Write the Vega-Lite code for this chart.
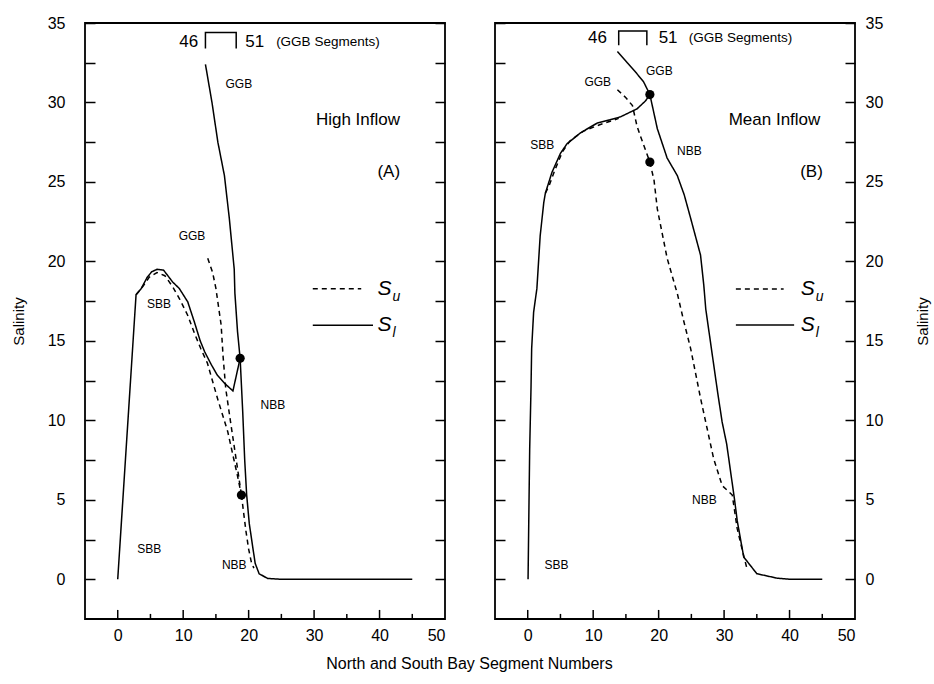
{
  "$schema": "https://vega.github.io/schema/vega-lite/v6.json",
  "background": "white",
  "padding": {"left": 10, "top": 14, "right": 5, "bottom": 5},
  "spacing": 50,
  "bounds": "flush",
  "config": {
    "font": "Liberation Sans",
    "view": {"stroke": "black", "strokeWidth": 1.8},
    "axis": {"domain": false, "grid": false, "labelFont": "Liberation Sans", "titleFont": "Liberation Sans", "labelFontSize": 16, "titleFontSize": 15, "titleFontWeight": "normal", "labelColor": "black", "titleColor": "black", "tickColor": "black", "tickWidth": 1.5}
  },
  "datasets": {
    "linesA": [
      {"s": "A_SBB_l", "curve": "S_l", "i": 0, "x": 0, "y": 0},
      {"s": "A_SBB_l", "curve": "S_l", "i": 1, "x": 2.8, "y": 17.9},
      {"s": "A_SBB_l", "curve": "S_l", "i": 2, "x": 3.6, "y": 18.3},
      {"s": "A_SBB_l", "curve": "S_l", "i": 3, "x": 4.5, "y": 19.0},
      {"s": "A_SBB_l", "curve": "S_l", "i": 4, "x": 5.2, "y": 19.35},
      {"s": "A_SBB_l", "curve": "S_l", "i": 5, "x": 6.0, "y": 19.5},
      {"s": "A_SBB_l", "curve": "S_l", "i": 6, "x": 7.0, "y": 19.45},
      {"s": "A_SBB_l", "curve": "S_l", "i": 7, "x": 8.4, "y": 18.7},
      {"s": "A_SBB_l", "curve": "S_l", "i": 8, "x": 9.4, "y": 18.3},
      {"s": "A_SBB_l", "curve": "S_l", "i": 9, "x": 10.7, "y": 17.45},
      {"s": "A_SBB_l", "curve": "S_l", "i": 10, "x": 11.7, "y": 16.2},
      {"s": "A_SBB_l", "curve": "S_l", "i": 11, "x": 12.6, "y": 15.0},
      {"s": "A_SBB_l", "curve": "S_l", "i": 12, "x": 13.3, "y": 14.3},
      {"s": "A_SBB_l", "curve": "S_l", "i": 13, "x": 14.3, "y": 13.5},
      {"s": "A_SBB_l", "curve": "S_l", "i": 14, "x": 15.2, "y": 12.85},
      {"s": "A_SBB_l", "curve": "S_l", "i": 15, "x": 16.4, "y": 12.3},
      {"s": "A_SBB_l", "curve": "S_l", "i": 16, "x": 17.6, "y": 11.85},
      {"s": "A_SBB_l", "curve": "S_l", "i": 17, "x": 18.7, "y": 13.9},
      {"s": "A_GGB_l", "curve": "S_l", "i": 0, "x": 13.4, "y": 32.4},
      {"s": "A_GGB_l", "curve": "S_l", "i": 1, "x": 14.4, "y": 30.0},
      {"s": "A_GGB_l", "curve": "S_l", "i": 2, "x": 15.3, "y": 27.5},
      {"s": "A_GGB_l", "curve": "S_l", "i": 3, "x": 16.3, "y": 25.4},
      {"s": "A_GGB_l", "curve": "S_l", "i": 4, "x": 17.05, "y": 22.7},
      {"s": "A_GGB_l", "curve": "S_l", "i": 5, "x": 17.8, "y": 19.5},
      {"s": "A_GGB_l", "curve": "S_l", "i": 6, "x": 17.9, "y": 18.0},
      {"s": "A_GGB_l", "curve": "S_l", "i": 7, "x": 18.3, "y": 15.6},
      {"s": "A_GGB_l", "curve": "S_l", "i": 8, "x": 18.7, "y": 13.9},
      {"s": "A_NBB_l", "curve": "S_l", "i": 0, "x": 18.7, "y": 13.9},
      {"s": "A_NBB_l", "curve": "S_l", "i": 1, "x": 19.1, "y": 10.5},
      {"s": "A_NBB_l", "curve": "S_l", "i": 2, "x": 19.4, "y": 7.5},
      {"s": "A_NBB_l", "curve": "S_l", "i": 3, "x": 19.7, "y": 5.3},
      {"s": "A_NBB_l", "curve": "S_l", "i": 4, "x": 20.1, "y": 3.5},
      {"s": "A_NBB_l", "curve": "S_l", "i": 5, "x": 20.6, "y": 2.1},
      {"s": "A_NBB_l", "curve": "S_l", "i": 6, "x": 21.0, "y": 1.0},
      {"s": "A_NBB_l", "curve": "S_l", "i": 7, "x": 21.6, "y": 0.35},
      {"s": "A_NBB_l", "curve": "S_l", "i": 8, "x": 22.9, "y": 0.05},
      {"s": "A_NBB_l", "curve": "S_l", "i": 9, "x": 25, "y": 0},
      {"s": "A_NBB_l", "curve": "S_l", "i": 10, "x": 45, "y": 0},
      {"s": "A_SBB_u", "curve": "S_u", "i": 0, "x": 2.8, "y": 17.9},
      {"s": "A_SBB_u", "curve": "S_u", "i": 1, "x": 3.8, "y": 18.4},
      {"s": "A_SBB_u", "curve": "S_u", "i": 2, "x": 4.8, "y": 19.0},
      {"s": "A_SBB_u", "curve": "S_u", "i": 3, "x": 6.0, "y": 19.3},
      {"s": "A_SBB_u", "curve": "S_u", "i": 4, "x": 7.2, "y": 19.1},
      {"s": "A_SBB_u", "curve": "S_u", "i": 5, "x": 8.4, "y": 18.4},
      {"s": "A_SBB_u", "curve": "S_u", "i": 6, "x": 9.5, "y": 17.6},
      {"s": "A_SBB_u", "curve": "S_u", "i": 7, "x": 10.7, "y": 16.6},
      {"s": "A_SBB_u", "curve": "S_u", "i": 8, "x": 11.7, "y": 15.5},
      {"s": "A_SBB_u", "curve": "S_u", "i": 9, "x": 12.7, "y": 14.5},
      {"s": "A_SBB_u", "curve": "S_u", "i": 10, "x": 13.7, "y": 13.6},
      {"s": "A_SBB_u", "curve": "S_u", "i": 11, "x": 15.3, "y": 11.3},
      {"s": "A_SBB_u", "curve": "S_u", "i": 12, "x": 16.8, "y": 9.3},
      {"s": "A_SBB_u", "curve": "S_u", "i": 13, "x": 18.3, "y": 6.5},
      {"s": "A_SBB_u", "curve": "S_u", "i": 14, "x": 18.9, "y": 5.3},
      {"s": "A_GGB_u", "curve": "S_u", "i": 0, "x": 13.75, "y": 20.2},
      {"s": "A_GGB_u", "curve": "S_u", "i": 1, "x": 14.5, "y": 19.3},
      {"s": "A_GGB_u", "curve": "S_u", "i": 2, "x": 15.0, "y": 18.3},
      {"s": "A_GGB_u", "curve": "S_u", "i": 3, "x": 15.8, "y": 16.0},
      {"s": "A_GGB_u", "curve": "S_u", "i": 4, "x": 16.1, "y": 14.0},
      {"s": "A_GGB_u", "curve": "S_u", "i": 5, "x": 16.5, "y": 12.0},
      {"s": "A_GGB_u", "curve": "S_u", "i": 6, "x": 17.2, "y": 10.0},
      {"s": "A_GGB_u", "curve": "S_u", "i": 7, "x": 18.0, "y": 7.8},
      {"s": "A_GGB_u", "curve": "S_u", "i": 8, "x": 18.9, "y": 5.3},
      {"s": "A_NBB_u", "curve": "S_u", "i": 0, "x": 18.9, "y": 5.3},
      {"s": "A_NBB_u", "curve": "S_u", "i": 1, "x": 19.2, "y": 4.3},
      {"s": "A_NBB_u", "curve": "S_u", "i": 2, "x": 19.6, "y": 3.0},
      {"s": "A_NBB_u", "curve": "S_u", "i": 3, "x": 20.0, "y": 1.9},
      {"s": "A_NBB_u", "curve": "S_u", "i": 4, "x": 20.4, "y": 1.1},
      {"s": "A_NBB_u", "curve": "S_u", "i": 5, "x": 20.8, "y": 0.7}
    ],
    "linesB": [
      {"s": "B_SBB_l", "curve": "S_l", "i": 0, "x": 0.05, "y": 0},
      {"s": "B_SBB_l", "curve": "S_l", "i": 1, "x": 0.2, "y": 5},
      {"s": "B_SBB_l", "curve": "S_l", "i": 2, "x": 0.3, "y": 8.2},
      {"s": "B_SBB_l", "curve": "S_l", "i": 3, "x": 0.5, "y": 12},
      {"s": "B_SBB_l", "curve": "S_l", "i": 4, "x": 0.6, "y": 14.5},
      {"s": "B_SBB_l", "curve": "S_l", "i": 5, "x": 0.9, "y": 16.8},
      {"s": "B_SBB_l", "curve": "S_l", "i": 6, "x": 1.4, "y": 18.3},
      {"s": "B_SBB_l", "curve": "S_l", "i": 7, "x": 1.9, "y": 21.6},
      {"s": "B_SBB_l", "curve": "S_l", "i": 8, "x": 2.45, "y": 23.7},
      {"s": "B_SBB_l", "curve": "S_l", "i": 9, "x": 2.7, "y": 24.3},
      {"s": "B_SBB_l", "curve": "S_l", "i": 10, "x": 3.7, "y": 25.6},
      {"s": "B_SBB_l", "curve": "S_l", "i": 11, "x": 5.0, "y": 26.8},
      {"s": "B_SBB_l", "curve": "S_l", "i": 12, "x": 6.0, "y": 27.4},
      {"s": "B_SBB_l", "curve": "S_l", "i": 13, "x": 8.1, "y": 28.1},
      {"s": "B_SBB_l", "curve": "S_l", "i": 14, "x": 10.6, "y": 28.7},
      {"s": "B_SBB_l", "curve": "S_l", "i": 15, "x": 12.5, "y": 28.9},
      {"s": "B_SBB_l", "curve": "S_l", "i": 16, "x": 14.2, "y": 29.1},
      {"s": "B_SBB_l", "curve": "S_l", "i": 17, "x": 16.7, "y": 29.6},
      {"s": "B_SBB_l", "curve": "S_l", "i": 18, "x": 18.0, "y": 30.1},
      {"s": "B_SBB_l", "curve": "S_l", "i": 19, "x": 18.66, "y": 30.5},
      {"s": "B_GGB_l", "curve": "S_l", "i": 0, "x": 13.7, "y": 33.2},
      {"s": "B_GGB_l", "curve": "S_l", "i": 1, "x": 15.2, "y": 32.5},
      {"s": "B_GGB_l", "curve": "S_l", "i": 2, "x": 16.5, "y": 31.9},
      {"s": "B_GGB_l", "curve": "S_l", "i": 3, "x": 17.7, "y": 31.3},
      {"s": "B_GGB_l", "curve": "S_l", "i": 4, "x": 18.66, "y": 30.5},
      {"s": "B_NBB_l", "curve": "S_l", "i": 0, "x": 18.66, "y": 30.5},
      {"s": "B_NBB_l", "curve": "S_l", "i": 1, "x": 19.8, "y": 28.35},
      {"s": "B_NBB_l", "curve": "S_l", "i": 2, "x": 21.3, "y": 26.5},
      {"s": "B_NBB_l", "curve": "S_l", "i": 3, "x": 22.85, "y": 25.4},
      {"s": "B_NBB_l", "curve": "S_l", "i": 4, "x": 23.9, "y": 24.2},
      {"s": "B_NBB_l", "curve": "S_l", "i": 5, "x": 24.9, "y": 22.7},
      {"s": "B_NBB_l", "curve": "S_l", "i": 6, "x": 26.4, "y": 20.4},
      {"s": "B_NBB_l", "curve": "S_l", "i": 7, "x": 26.9, "y": 18.5},
      {"s": "B_NBB_l", "curve": "S_l", "i": 8, "x": 27.2, "y": 17.0},
      {"s": "B_NBB_l", "curve": "S_l", "i": 9, "x": 28.1, "y": 14.4},
      {"s": "B_NBB_l", "curve": "S_l", "i": 10, "x": 29.0, "y": 11.8},
      {"s": "B_NBB_l", "curve": "S_l", "i": 11, "x": 29.7, "y": 9.9},
      {"s": "B_NBB_l", "curve": "S_l", "i": 12, "x": 30.4, "y": 8.5},
      {"s": "B_NBB_l", "curve": "S_l", "i": 13, "x": 31.0, "y": 6.75},
      {"s": "B_NBB_l", "curve": "S_l", "i": 14, "x": 31.6, "y": 5.0},
      {"s": "B_NBB_l", "curve": "S_l", "i": 15, "x": 32.0, "y": 3.7},
      {"s": "B_NBB_l", "curve": "S_l", "i": 16, "x": 33.0, "y": 1.4},
      {"s": "B_NBB_l", "curve": "S_l", "i": 17, "x": 35.0, "y": 0.35},
      {"s": "B_NBB_l", "curve": "S_l", "i": 18, "x": 38.1, "y": 0.07},
      {"s": "B_NBB_l", "curve": "S_l", "i": 19, "x": 40, "y": 0},
      {"s": "B_NBB_l", "curve": "S_l", "i": 20, "x": 45, "y": 0},
      {"s": "B_SBB_u", "curve": "S_u", "i": 0, "x": 2.7, "y": 24.3},
      {"s": "B_SBB_u", "curve": "S_u", "i": 1, "x": 3.3, "y": 24.8},
      {"s": "B_SBB_u", "curve": "S_u", "i": 2, "x": 4.2, "y": 25.8},
      {"s": "B_SBB_u", "curve": "S_u", "i": 3, "x": 5.3, "y": 26.9},
      {"s": "B_SBB_u", "curve": "S_u", "i": 4, "x": 6.5, "y": 27.6},
      {"s": "B_SBB_u", "curve": "S_u", "i": 5, "x": 8.5, "y": 28.2},
      {"s": "B_SBB_u", "curve": "S_u", "i": 6, "x": 11.0, "y": 28.6},
      {"s": "B_SBB_u", "curve": "S_u", "i": 7, "x": 13.9, "y": 29.0},
      {"s": "B_GGB_u", "curve": "S_u", "i": 0, "x": 13.7, "y": 30.8},
      {"s": "B_GGB_u", "curve": "S_u", "i": 1, "x": 15.0, "y": 30.3},
      {"s": "B_GGB_u", "curve": "S_u", "i": 2, "x": 16.0, "y": 29.8},
      {"s": "B_GGB_u", "curve": "S_u", "i": 3, "x": 16.7, "y": 28.5},
      {"s": "B_GGB_u", "curve": "S_u", "i": 4, "x": 17.2, "y": 27.9},
      {"s": "B_GGB_u", "curve": "S_u", "i": 5, "x": 18.0, "y": 27.0},
      {"s": "B_GGB_u", "curve": "S_u", "i": 6, "x": 18.66, "y": 26.25},
      {"s": "B_NBB_u", "curve": "S_u", "i": 0, "x": 18.66, "y": 26.25},
      {"s": "B_NBB_u", "curve": "S_u", "i": 1, "x": 19.3, "y": 25.1},
      {"s": "B_NBB_u", "curve": "S_u", "i": 2, "x": 19.8, "y": 23.3},
      {"s": "B_NBB_u", "curve": "S_u", "i": 3, "x": 21.3, "y": 20.2},
      {"s": "B_NBB_u", "curve": "S_u", "i": 4, "x": 22.9, "y": 17.9},
      {"s": "B_NBB_u", "curve": "S_u", "i": 5, "x": 23.8, "y": 16.3},
      {"s": "B_NBB_u", "curve": "S_u", "i": 6, "x": 24.9, "y": 14.5},
      {"s": "B_NBB_u", "curve": "S_u", "i": 7, "x": 26.4, "y": 11.4},
      {"s": "B_NBB_u", "curve": "S_u", "i": 8, "x": 27.4, "y": 9.5},
      {"s": "B_NBB_u", "curve": "S_u", "i": 9, "x": 28.4, "y": 7.6},
      {"s": "B_NBB_u", "curve": "S_u", "i": 10, "x": 29.7, "y": 5.9},
      {"s": "B_NBB_u", "curve": "S_u", "i": 11, "x": 31.25, "y": 5.3},
      {"s": "B_NBB_u", "curve": "S_u", "i": 12, "x": 32.0, "y": 3.2},
      {"s": "B_NBB_u", "curve": "S_u", "i": 13, "x": 32.8, "y": 1.8},
      {"s": "B_NBB_u", "curve": "S_u", "i": 14, "x": 33.5, "y": 0.66}
    ],
    "majorTicks": [{"x": 0}, {"x": 10}, {"x": 20}, {"x": 30}, {"x": 40}],
    "minorTicks": [{"x": 5}, {"x": 15}, {"x": 25}, {"x": 35}, {"x": 45}],
    "dotsA": [{"x": 18.7, "y": 13.9}, {"x": 18.9, "y": 5.3}],
    "dotsB": [{"x": 18.66, "y": 30.5}, {"x": 18.66, "y": 26.25}],
    "bracketA": [{"i": 0, "x": 13.4, "y": 33.4}, {"i": 1, "x": 13.4, "y": 34.4}, {"i": 2, "x": 18.1, "y": 34.4}, {"i": 3, "x": 18.1, "y": 33.4}],
    "bracketB": [{"i": 0, "x": 13.9, "y": 33.6}, {"i": 1, "x": 13.9, "y": 34.5}, {"i": 2, "x": 18.2, "y": 34.5}, {"i": 3, "x": 18.2, "y": 33.6}],
    "legendA": [
      {"curve": "S_u", "x": 29.8, "y": 18.28}, {"curve": "S_u", "x": 37.2, "y": 18.28},
      {"curve": "S_l", "x": 29.8, "y": 15.98}, {"curve": "S_l", "x": 39.0, "y": 15.98}
    ],
    "legendB": [
      {"curve": "S_u", "x": 31.8, "y": 18.26}, {"curve": "S_u", "x": 39.1, "y": 18.26},
      {"curve": "S_l", "x": 31.8, "y": 16.0}, {"curve": "S_l", "x": 40.7, "y": 16.0}
    ],
    "symA": [{"x": 39.7, "y": 18.28, "t": "S", "sub": "u"}, {"x": 39.7, "y": 15.98, "t": "S", "sub": "l"}],
    "symB": [{"x": 41.7, "y": 18.26, "t": "S", "sub": "u"}, {"x": 41.7, "y": 16.0, "t": "S", "sub": "l"}],
    "smallA": [
      {"x": 18.5, "y": 31.16, "t": "GGB"}, {"x": 11.35, "y": 21.6, "t": "GGB"},
      {"x": 6.3, "y": 17.3, "t": "SBB"}, {"x": 23.7, "y": 10.96, "t": "NBB"},
      {"x": 4.8, "y": 1.92, "t": "SBB"}, {"x": 17.8, "y": 0.91, "t": "NBB"}
    ],
    "smallB": [
      {"x": 20.1, "y": 32.0, "t": "GGB"}, {"x": 10.7, "y": 31.3, "t": "GGB"},
      {"x": 2.2, "y": 27.3, "t": "SBB"}, {"x": 24.7, "y": 26.95, "t": "NBB"},
      {"x": 27.0, "y": 4.97, "t": "NBB"}, {"x": 4.4, "y": 0.87, "t": "SBB"}
    ],
    "bigA": [{"x": 36.7, "y": 28.9, "t": "High Inflow"}, {"x": 41.4, "y": 25.6, "t": "(A)"}],
    "bigB": [{"x": 37.7, "y": 28.9, "t": "Mean Inflow"}, {"x": 43.35, "y": 25.6, "t": "(B)"}],
    "n46A": [{"x": 12.3, "y": 33.8, "t": "46"}],
    "n51A": [{"x": 19.5, "y": 33.8, "t": "51"}],
    "segTxtA": [{"x": 24.2, "y": 33.8, "t": "(GGB Segments)"}],
    "n46B": [{"x": 12.1, "y": 34.06, "t": "46"}],
    "n51B": [{"x": 20.0, "y": 34.06, "t": "51"}],
    "segTxtB": [{"x": 24.6, "y": 34.06, "t": "(GGB Segments)"}]
  },
  "hconcat": [
    {
      "width": 360,
      "height": 596,
      "resolve": {"axis": {"y": "independent"}},
      "layer": [
        {
          "data": {"name": "linesA"},
          "mark": {"type": "line", "color": "black", "strokeWidth": 1.5},
          "encoding": {
            "x": {"field": "x", "type": "quantitative", "scale": {"domain": [-5, 50], "nice": false, "zero": false},
              "axis": {"orient": "bottom", "values": [0, 5, 10, 15, 20, 25, 30, 35, 40, 45, 50], "labelExpr": "datum.value % 10 === 0 ? datum.label : ''", "ticks": false, "labelPadding": 8, "title": "North and South Bay Segment Numbers", "titleFontSize": 16, "titleX": 384, "titlePadding": 12}},
            "y": {"field": "y", "type": "quantitative", "scale": {"domain": [-2.5, 35], "nice": false, "zero": false},
              "axis": {"orient": "left", "values": [0, 2.5, 5, 7.5, 10, 12.5, 15, 17.5, 20, 22.5, 25, 27.5, 30, 32.5, 35], "labelExpr": "datum.value % 5 === 0 ? datum.label : ''", "tickSize": -10, "labelPadding": 30, "title": "Salinity", "titlePadding": 21}},
            "detail": {"field": "s"},
            "order": {"field": "i", "type": "quantitative"},
            "strokeDash": {"field": "curve", "type": "nominal", "scale": {"domain": ["S_l", "S_u"], "range": [[1, 0], [5, 4]]}, "legend": null}
          }
        },
        {
          "data": {"name": "majorTicks"},
          "mark": {"type": "rule", "color": "black", "strokeWidth": 1.5},
          "encoding": {"x": {"field": "x", "type": "quantitative"}, "y": {"datum": -2.5, "type": "quantitative", "axis": null}, "y2": {"datum": -1.93}}
        },
        {
          "data": {"name": "minorTicks"},
          "mark": {"type": "rule", "color": "black", "strokeWidth": 1.5},
          "encoding": {"x": {"field": "x", "type": "quantitative"}, "y": {"datum": -2.5, "type": "quantitative", "axis": null}, "y2": {"datum": -2.18}}
        },
        {
          "data": {"name": "dotsA"},
          "mark": {"type": "circle", "color": "black", "opacity": 1, "size": 85},
          "encoding": {
            "x": {"field": "x", "type": "quantitative"},
            "y": {"field": "y", "type": "quantitative", "scale": {"domain": [-2.5, 35], "nice": false, "zero": false},
              "axis": {"orient": "right", "values": [0, 2.5, 5, 7.5, 10, 12.5, 15, 17.5, 20, 22.5, 25, 27.5, 30, 32.5, 35], "labels": false, "tickSize": -10, "title": null}}
          }
        },
        {
          "data": {"name": "bracketA"},
          "mark": {"type": "line", "color": "black", "strokeWidth": 1.5},
          "encoding": {"x": {"field": "x", "type": "quantitative"}, "y": {"field": "y", "type": "quantitative", "axis": null}, "order": {"field": "i", "type": "quantitative"}}
        },
        {
          "data": {"name": "legendA"},
          "mark": {"type": "line", "color": "black", "strokeWidth": 1.5},
          "encoding": {
            "x": {"field": "x", "type": "quantitative"},
            "y": {"field": "y", "type": "quantitative", "axis": null},
            "detail": {"field": "curve"},
            "strokeDash": {"field": "curve", "type": "nominal", "scale": {"domain": ["S_l", "S_u"], "range": [[1, 0], [5, 4]]}, "legend": null}
          }
        },
        {
          "data": {"name": "symA"},
          "mark": {"type": "text", "align": "left", "baseline": "middle", "fontSize": 21, "fontStyle": "italic", "color": "black"},
          "encoding": {"x": {"field": "x", "type": "quantitative"}, "y": {"field": "y", "type": "quantitative", "axis": null}, "text": {"field": "t"}}
        },
        {
          "data": {"name": "symA"},
          "mark": {"type": "text", "align": "left", "baseline": "middle", "fontSize": 14, "fontStyle": "italic", "color": "black", "dx": 15, "dy": 8},
          "encoding": {"x": {"field": "x", "type": "quantitative"}, "y": {"field": "y", "type": "quantitative", "axis": null}, "text": {"field": "sub"}}
        },
        {
          "data": {"name": "smallA"},
          "mark": {"type": "text", "align": "center", "baseline": "middle", "fontSize": 12, "color": "black"},
          "encoding": {"x": {"field": "x", "type": "quantitative"}, "y": {"field": "y", "type": "quantitative", "axis": null}, "text": {"field": "t"}}
        },
        {
          "data": {"name": "bigA"},
          "mark": {"type": "text", "align": "center", "baseline": "middle", "fontSize": 17, "color": "black"},
          "encoding": {"x": {"field": "x", "type": "quantitative"}, "y": {"field": "y", "type": "quantitative", "axis": null}, "text": {"field": "t"}}
        },
        {
          "data": {"name": "n46A"},
          "mark": {"type": "text", "align": "right", "baseline": "middle", "fontSize": 17, "color": "black"},
          "encoding": {"x": {"field": "x", "type": "quantitative"}, "y": {"field": "y", "type": "quantitative", "axis": null}, "text": {"field": "t"}}
        },
        {
          "data": {"name": "n51A"},
          "mark": {"type": "text", "align": "left", "baseline": "middle", "fontSize": 17, "color": "black"},
          "encoding": {"x": {"field": "x", "type": "quantitative"}, "y": {"field": "y", "type": "quantitative", "axis": null}, "text": {"field": "t"}}
        },
        {
          "data": {"name": "segTxtA"},
          "mark": {"type": "text", "align": "left", "baseline": "middle", "fontSize": 13.5, "color": "black"},
          "encoding": {"x": {"field": "x", "type": "quantitative"}, "y": {"field": "y", "type": "quantitative", "axis": null}, "text": {"field": "t"}}
        }
      ]
    },
    {
      "width": 360,
      "height": 596,
      "resolve": {"axis": {"y": "independent"}},
      "layer": [
        {
          "data": {"name": "linesB"},
          "mark": {"type": "line", "color": "black", "strokeWidth": 1.5},
          "encoding": {
            "x": {"field": "x", "type": "quantitative", "scale": {"domain": [-5, 50], "nice": false, "zero": false},
              "axis": {"orient": "bottom", "values": [0, 5, 10, 15, 20, 25, 30, 35, 40, 45, 50], "labelExpr": "datum.value % 10 === 0 ? datum.label : ''", "ticks": false, "labelPadding": 8, "title": null}},
            "y": {"field": "y", "type": "quantitative", "scale": {"domain": [-2.5, 35], "nice": false, "zero": false},
              "axis": {"orient": "left", "values": [0, 2.5, 5, 7.5, 10, 12.5, 15, 17.5, 20, 22.5, 25, 27.5, 30, 32.5, 35], "labels": false, "tickSize": -10, "title": null}},
            "detail": {"field": "s"},
            "order": {"field": "i", "type": "quantitative"},
            "strokeDash": {"field": "curve", "type": "nominal", "scale": {"domain": ["S_l", "S_u"], "range": [[1, 0], [5, 4]]}, "legend": null}
          }
        },
        {
          "data": {"name": "majorTicks"},
          "mark": {"type": "rule", "color": "black", "strokeWidth": 1.5},
          "encoding": {"x": {"field": "x", "type": "quantitative"}, "y": {"datum": -2.5, "type": "quantitative", "axis": null}, "y2": {"datum": -1.93}}
        },
        {
          "data": {"name": "minorTicks"},
          "mark": {"type": "rule", "color": "black", "strokeWidth": 1.5},
          "encoding": {"x": {"field": "x", "type": "quantitative"}, "y": {"datum": -2.5, "type": "quantitative", "axis": null}, "y2": {"datum": -2.18}}
        },
        {
          "data": {"name": "dotsB"},
          "mark": {"type": "circle", "color": "black", "opacity": 1, "size": 85},
          "encoding": {
            "x": {"field": "x", "type": "quantitative"},
            "y": {"field": "y", "type": "quantitative", "scale": {"domain": [-2.5, 35], "nice": false, "zero": false},
              "axis": {"orient": "right", "values": [0, 2.5, 5, 7.5, 10, 12.5, 15, 17.5, 20, 22.5, 25, 27.5, 30, 32.5, 35], "labelExpr": "datum.value % 5 === 0 ? datum.label : ''", "tickSize": -10, "labelPadding": 20, "title": "Salinity", "titleAngle": 270, "titlePadding": 48}}
          }
        },
        {
          "data": {"name": "bracketB"},
          "mark": {"type": "line", "color": "black", "strokeWidth": 1.5},
          "encoding": {"x": {"field": "x", "type": "quantitative"}, "y": {"field": "y", "type": "quantitative", "axis": null}, "order": {"field": "i", "type": "quantitative"}}
        },
        {
          "data": {"name": "legendB"},
          "mark": {"type": "line", "color": "black", "strokeWidth": 1.5},
          "encoding": {
            "x": {"field": "x", "type": "quantitative"},
            "y": {"field": "y", "type": "quantitative", "axis": null},
            "detail": {"field": "curve"},
            "strokeDash": {"field": "curve", "type": "nominal", "scale": {"domain": ["S_l", "S_u"], "range": [[1, 0], [5, 4]]}, "legend": null}
          }
        },
        {
          "data": {"name": "symB"},
          "mark": {"type": "text", "align": "left", "baseline": "middle", "fontSize": 21, "fontStyle": "italic", "color": "black"},
          "encoding": {"x": {"field": "x", "type": "quantitative"}, "y": {"field": "y", "type": "quantitative", "axis": null}, "text": {"field": "t"}}
        },
        {
          "data": {"name": "symB"},
          "mark": {"type": "text", "align": "left", "baseline": "middle", "fontSize": 14, "fontStyle": "italic", "color": "black", "dx": 15, "dy": 8},
          "encoding": {"x": {"field": "x", "type": "quantitative"}, "y": {"field": "y", "type": "quantitative", "axis": null}, "text": {"field": "sub"}}
        },
        {
          "data": {"name": "smallB"},
          "mark": {"type": "text", "align": "center", "baseline": "middle", "fontSize": 12, "color": "black"},
          "encoding": {"x": {"field": "x", "type": "quantitative"}, "y": {"field": "y", "type": "quantitative", "axis": null}, "text": {"field": "t"}}
        },
        {
          "data": {"name": "bigB"},
          "mark": {"type": "text", "align": "center", "baseline": "middle", "fontSize": 17, "color": "black"},
          "encoding": {"x": {"field": "x", "type": "quantitative"}, "y": {"field": "y", "type": "quantitative", "axis": null}, "text": {"field": "t"}}
        },
        {
          "data": {"name": "n46B"},
          "mark": {"type": "text", "align": "right", "baseline": "middle", "fontSize": 17, "color": "black"},
          "encoding": {"x": {"field": "x", "type": "quantitative"}, "y": {"field": "y", "type": "quantitative", "axis": null}, "text": {"field": "t"}}
        },
        {
          "data": {"name": "n51B"},
          "mark": {"type": "text", "align": "left", "baseline": "middle", "fontSize": 17, "color": "black"},
          "encoding": {"x": {"field": "x", "type": "quantitative"}, "y": {"field": "y", "type": "quantitative", "axis": null}, "text": {"field": "t"}}
        },
        {
          "data": {"name": "segTxtB"},
          "mark": {"type": "text", "align": "left", "baseline": "middle", "fontSize": 13.5, "color": "black"},
          "encoding": {"x": {"field": "x", "type": "quantitative"}, "y": {"field": "y", "type": "quantitative", "axis": null}, "text": {"field": "t"}}
        }
      ]
    }
  ]
}
